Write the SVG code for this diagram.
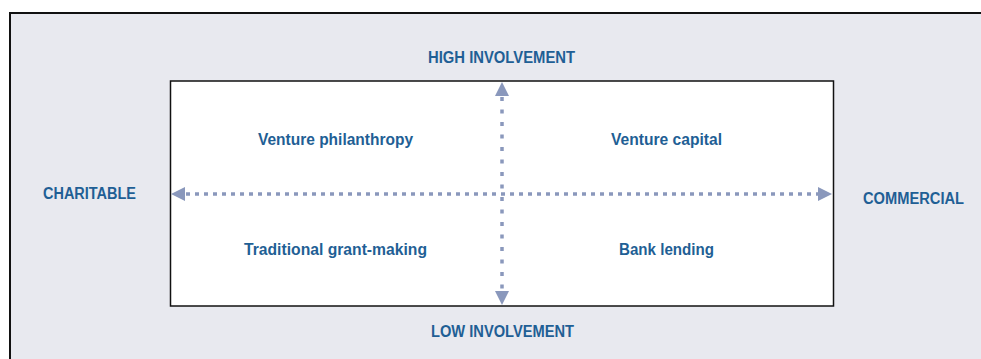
<svg xmlns="http://www.w3.org/2000/svg" width="981" height="359" viewBox="0 0 981 359">
<style>
.lbl{font-family:"Liberation Sans",Arial,sans-serif;font-weight:bold;font-size:16px;fill:#1f5f95}
.ax{stroke:#8a98bc;stroke-width:3.5;fill:none}
.hd{fill:#8a98bc}
</style>
<rect id="frame" x="10" y="13" width="990" height="360" fill="#e8e9ef" stroke="#111" stroke-width="2"/>
<g id="matrix"><rect x="170.5" y="81" width="663" height="225" fill="#fff" stroke="#111" stroke-width="1.5"/></g>
<g id="connectors">
<line class="ax" x1="186" y1="194" x2="818" y2="194" stroke-dasharray="4 5"/>
<polygon class="hd" points="171,194 185,187 185,201"/>
<polygon class="hd" points="832,194 818,187 818,201"/>
<line class="ax" x1="502" y1="97" x2="502" y2="291" stroke-dasharray="4 8.5"/>
<polygon class="hd" points="502,82 495,96 509,96"/>
<polygon class="hd" points="502,305 495,291 509,291"/>
</g>
<g id="high"><text class="lbl" x="428" y="63" textLength="147" lengthAdjust="spacingAndGlyphs">HIGH INVOLVEMENT</text></g>
<g id="low"><text class="lbl" x="431" y="337" textLength="143" lengthAdjust="spacingAndGlyphs">LOW INVOLVEMENT</text></g>
<g id="charitable"><text class="lbl" x="43" y="199" textLength="93" lengthAdjust="spacingAndGlyphs">CHARITABLE</text></g>
<g id="commercial"><text class="lbl" x="863" y="204" textLength="101" lengthAdjust="spacingAndGlyphs">COMMERCIAL</text></g>
<g id="vp"><text class="lbl" x="258" y="145" textLength="155" lengthAdjust="spacingAndGlyphs">Venture philanthropy</text></g>
<g id="vc"><text class="lbl" x="611" y="145" textLength="111" lengthAdjust="spacingAndGlyphs">Venture capital</text></g>
<g id="tg"><text class="lbl" x="244" y="255" textLength="183" lengthAdjust="spacingAndGlyphs">Traditional grant-making</text></g>
<g id="bl"><text class="lbl" x="619" y="255" textLength="95" lengthAdjust="spacingAndGlyphs">Bank lending</text></g>
</svg>
